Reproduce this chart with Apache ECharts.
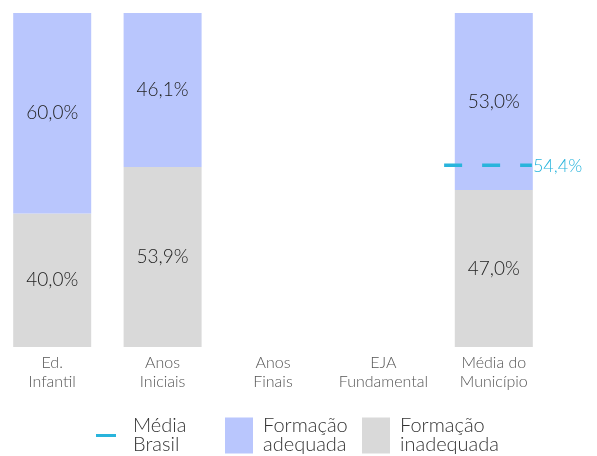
<!DOCTYPE html>
<html>
<head>
<meta charset="utf-8">
<script src="https://cdn.jsdelivr.net/npm/echarts@6/dist/echarts.min.js"></script>
<style>
  html, body { margin: 0; padding: 0; background: #fff; }
  #chart { width: 597px; height: 456px; }
</style>
</head>
<body>
<div id="chart"></div>
<script>
var categories = ['Ed.\nInfantil', 'Anos\nIniciais', 'Anos\nFinais', 'EJA\nFundamental', 'Média do\nMunicípio']
var adequada = [60.0, 46.1, null, null, 53.0]
var inadequada = [40.0, 53.9, null, null, 47.0]
var mediaBrasil = [null, null, null, null, 54.4]

var FONT = 'Lato'
var fmt = function (v) { return v.toFixed(1).replace('.', ',') + '%' }

var chart = echarts.init(document.getElementById('chart'))

// dashed reference line drawn over the bar of its category
function renderBrasil(params, api) {
  var pt = api.coord([api.value(0), api.value(1)])
  var band = api.size([1, 0])[0]
  var x1 = pt[0] - band * 0.45
  var x2 = pt[0] + band * 0.345
  return {
    type: 'group',
    children: [{
      type: 'line',
      shape: { x1: x1, y1: pt[1], x2: x2, y2: pt[1] },
      style: { stroke: '#29b4dc', lineWidth: 3.5, lineDash: [18, 20] }
    }, {
      type: 'text',
      x: x2 + 1,
      y: pt[1] + 1,
      style: {
        text: fmt(api.value(1)),
        fill: '#29b4dc',
        font: '300 18px ' + FONT,
        verticalAlign: 'middle',
        align: 'left'
      }
    }]
  }
}

var brasilData = []
mediaBrasil.forEach(function (v, i) {
  if (v != null) brasilData.push([i, v])
})

var legendText = {
  color: '#333',
  fontFamily: FONT,
  fontWeight: 300,
  fontSize: 20,
  lineHeight: 19
}

chart.setOption({
  animation: false,
  grid: { left: -3, right: 48, top: 13, bottom: 109, outerBoundsMode: 'none' },
  legend: [{
    left: 96, top: 416, padding: 0,
    itemWidth: 20, itemHeight: 3,
    data: [{ name: 'Média\nBrasil', icon: 'rect', itemStyle: { color: '#29b4dc' } }],
    textStyle: Object.assign({ padding: [0, 0, 0, 12] }, legendText)
  }, {
    left: 225, top: 416, padding: 0,
    itemWidth: 28, itemHeight: 36,
    data: [{ name: 'Formação\nadequada', icon: 'rect' }],
    textStyle: Object.assign({ padding: [0, 0, 0, 5] }, legendText)
  }, {
    left: 362, top: 416, padding: 0,
    itemWidth: 28, itemHeight: 36,
    data: [{ name: 'Formação\ninadequada', icon: 'rect' }],
    textStyle: Object.assign({ padding: [0, 0, 0, 5] }, legendText)
  }],
  xAxis: {
    type: 'category',
    data: categories,
    axisLine: { show: false },
    axisTick: { show: false },
    axisLabel: {
      color: '#555',
      fontFamily: FONT,
      fontWeight: 300,
      fontSize: 16,
      lineHeight: 19,
      margin: 6,
      interval: 0
    }
  },
  yAxis: {
    type: 'value',
    min: 0,
    max: 100,
    show: false
  },
  series: [{
    name: 'Formação\ninadequada',
    type: 'bar',
    stack: 'total',
    barWidth: 78,
    data: inadequada,
    itemStyle: { color: '#d9d9d9' },
    label: {
      show: true,
      position: 'inside',
      color: '#222',
      fontFamily: FONT,
      fontWeight: 300,
      fontSize: 19,
      formatter: function (p) { return fmt(p.value) }
    }
  }, {
    name: 'Formação\nadequada',
    type: 'bar',
    stack: 'total',
    barWidth: 78,
    data: adequada,
    itemStyle: { color: '#b9c6fd' },
    label: {
      show: true,
      position: 'inside',
      color: '#222',
      fontFamily: FONT,
      fontWeight: 300,
      fontSize: 19,
      formatter: function (p) { return fmt(p.value) }
    }
  }, {
    name: 'Média\nBrasil',
    type: 'custom',
    renderItem: renderBrasil,
    encode: { x: 0, y: 1 },
    data: brasilData,
    itemStyle: { color: '#29b4dc' },
    z: 10
  }]
})
</script>
</body>
</html>
